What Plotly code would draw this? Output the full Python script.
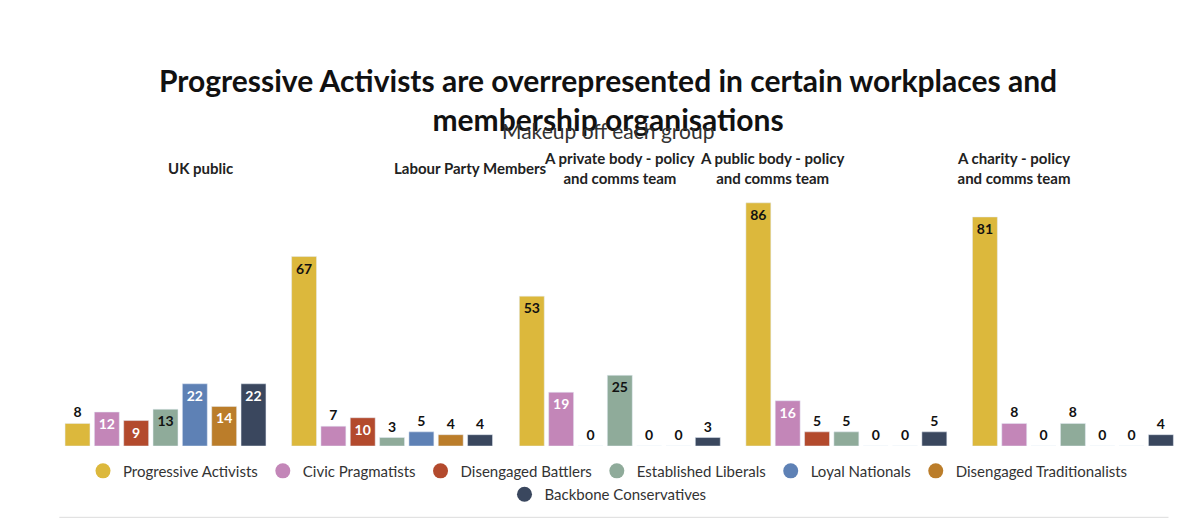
import plotly.graph_objects as go

# Data
panels = ["UK public", "Labour Party Members", "A private body - policy<br>and comms team",
          "A public body - policy<br>and comms team", "A charity - policy<br>and comms team"]
segments = ["Progressive Activists", "Civic Pragmatists", "Disengaged Battlers",
            "Established Liberals", "Loyal Nationals", "Disengaged Traditionalists",
            "Backbone Conservatives"]
values = [
    [8, 12, 9, 13, 22, 14, 22],
    [67, 7, 10, 3, 5, 4, 4],
    [53, 19, 0, 25, 0, 0, 3],
    [86, 16, 5, 5, 0, 0, 5],
    [81, 8, 0, 8, 0, 0, 4],
]
colors = ["#dcb83c", "#c386b8", "#b34a2d", "#8fab9a", "#5e81b5", "#bb7d2a", "#3a475e"]
text_dark = [True, False, False, True, False, False, False]

domains = [(0.038, 0.212), (0.23, 0.404), (0.423, 0.597), (0.615, 0.789), (0.807, 0.981)]
font = "Lato"

fig = go.Figure()
for p, vals in enumerate(values):
    ax = "" if p == 0 else str(p + 1)
    for i, (seg, v) in enumerate(zip(segments, vals)):
        inside = v >= 9
        fig.add_trace(go.Bar(
            x=[seg], y=[v], xaxis="x" + ax, yaxis="y" + ax,
            marker_color=colors[i], showlegend=False,
            text=["<b>%d</b>" % v], textposition="inside" if inside else "outside",
            insidetextanchor="end", cliponaxis=False, textangle=0,
            textfont=dict(family=font, size=14,
                          color=("#111" if (text_dark[i] or not inside) else "white")),
            hoverinfo="skip",
        ))
    fig.update_layout({
        "xaxis" + ax: dict(domain=domains[p], anchor="y" + ax, visible=False,
                           categoryorder="array", categoryarray=segments),
        "yaxis" + ax: dict(range=[0, 87], visible=False, anchor="x" + ax),
    })
    fig.add_annotation(text="<b>" + panels[p] + "</b>", x=sum(domains[p]) / 2, y=1.13,
                       xref="paper", yref="paper", yanchor="middle", showarrow=False,
                       font=dict(family=font, size=15, color="#222"))

# legend entries as circles
for k, (seg, c) in enumerate(zip(segments, colors)):
    fig.add_trace(go.Scatter(x=[None], y=[None], mode="markers", name=seg,
                             legend="legend" if k < 6 else "legend2",
                             marker=dict(symbol="circle", size=15, color=c)))

leg = dict(orientation="h", xanchor="center", x=0.5, yanchor="top",
           font=dict(size=15, color="#333", family=font), itemwidth=30,
           bgcolor="rgba(0,0,0,0)")
fig.update_layout(
    width=1200, height=518, barmode="overlay", bargap=0.15,
    plot_bgcolor="white", paper_bgcolor="white",
    margin=dict(l=10, r=10, t=192, b=80),
    font=dict(family=font, color="#333"),
    legend=dict(leg, y=-0.035),
    legend2=dict(leg, y=-0.13),
    shapes=[dict(type="line", xref="paper", yref="paper", x0=0.035, x1=0.975,
                 y0=-0.29, y1=-0.29, line=dict(color="#ddd", width=1))],
)
fig.add_annotation(text="<b>Progressive Activists are overrepresented in certain workplaces and<br>membership organisations</b>",
                   x=0.5, y=1.57, xref="paper", yref="paper", showarrow=False,
                   font=dict(size=30, color="#111", family=font))
fig.add_annotation(text="Makeup off each group", x=0.5, y=1.34, xref="paper", yref="paper",
                   showarrow=False, font=dict(family=font, size=21, color="#333"))

fig.write_html("out.html")
